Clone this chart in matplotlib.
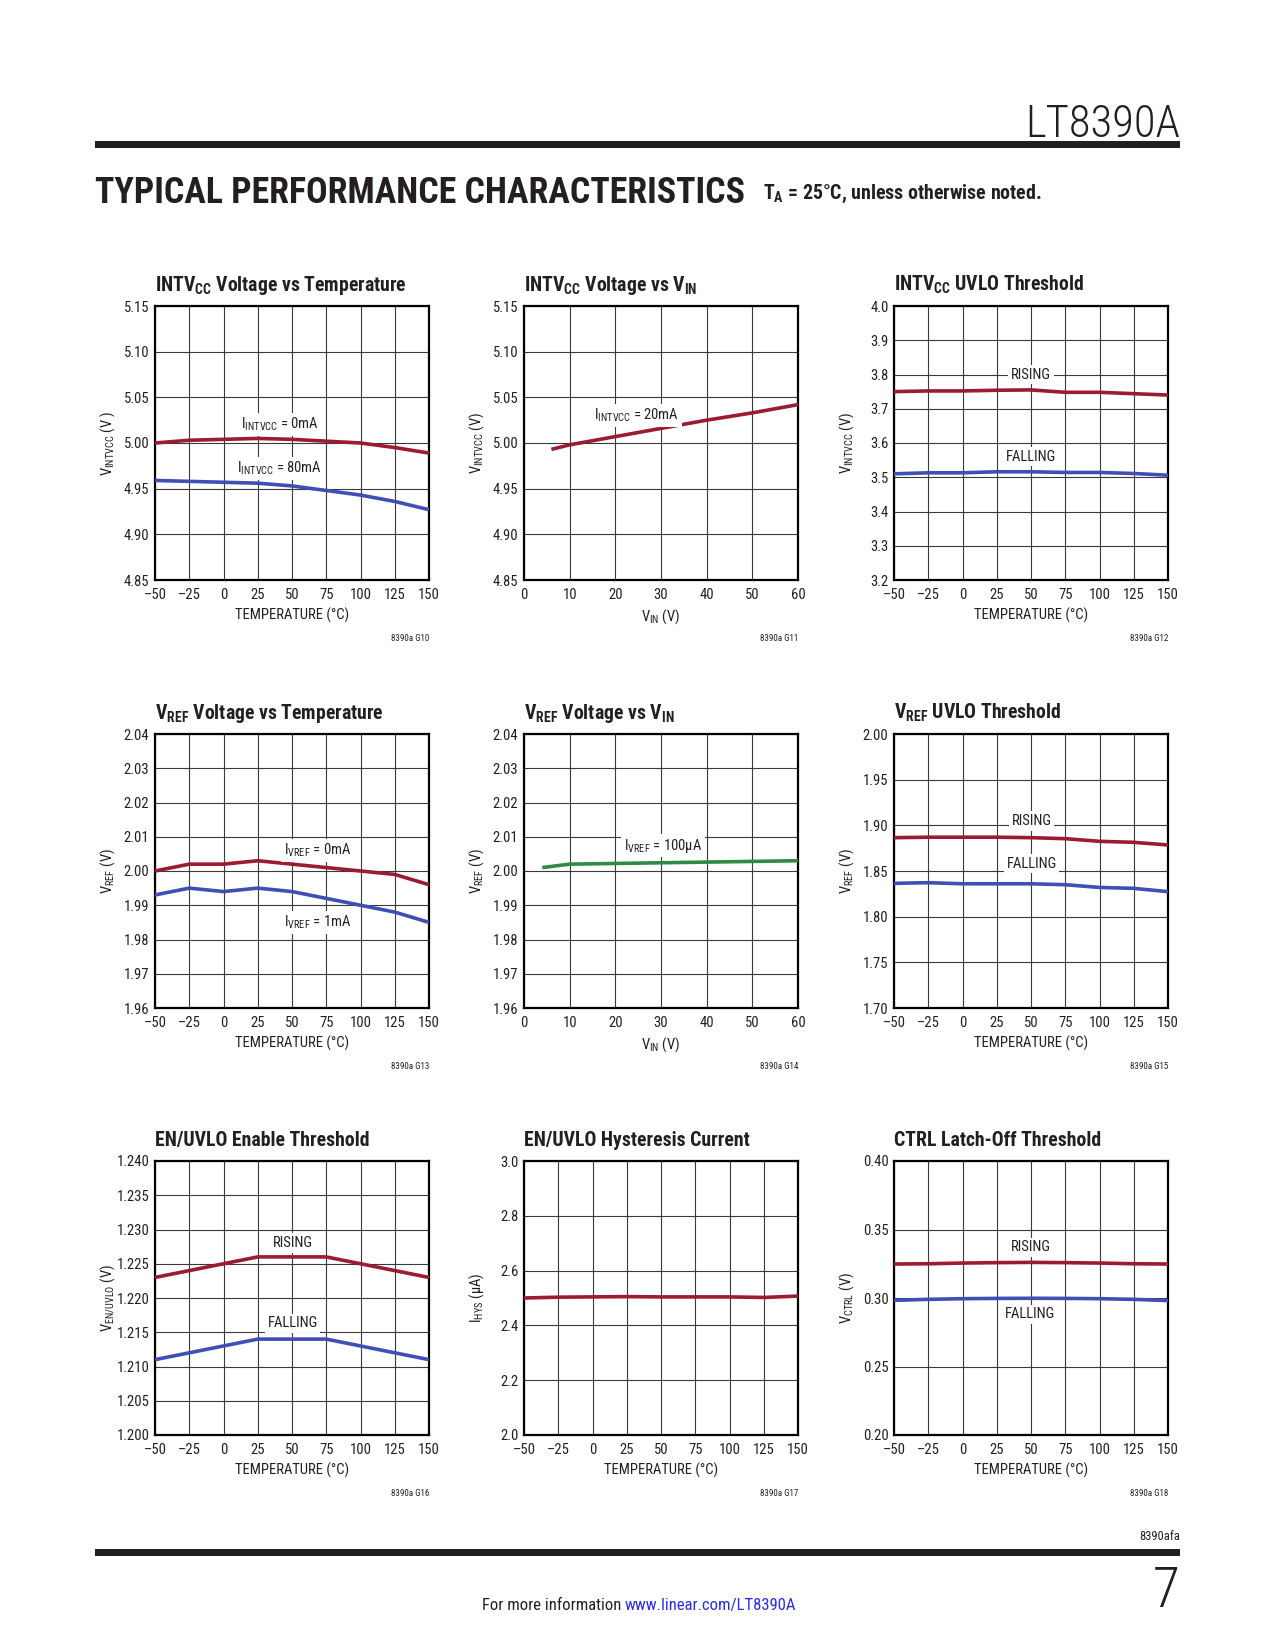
import matplotlib
matplotlib.use('Agg')
import matplotlib.pyplot as plt
from matplotlib import font_manager
from matplotlib.patches import Rectangle
from matplotlib.ticker import FuncFormatter, FormatStrFormatter

# --- fuentes disponibles ---
nombres = {f.name for f in font_manager.fontManager.ttflist}
def elegir(*cands):
    for c in cands:
        if c in nombres:
            return c
    return 'DejaVu Sans'

NARROW = elegir('Liberation Sans Narrow', 'Roboto Condensed', 'Open Sans Condensed', 'Roboto')
plt.rcParams['font.family'] = [NARROW, 'DejaVu Sans']
plt.rcParams['mathtext.default'] = 'regular'

RED = '#9c1a32'
BLUE = '#3f4fb6'
GREEN = '#2f8a42'

# --- datos ---
temp = [-50, -25, 0, 25, 50, 75, 100, 125, 150]
temp_ticks = [-50, -25, 0, 25, 50, 75, 100, 125, 150]
vin_ticks = [0, 10, 20, 30, 40, 50, 60]

intvcc_0ma = [5.000, 5.003, 5.004, 5.005, 5.004, 5.002, 5.000, 4.995, 4.989]
intvcc_80ma = [4.959, 4.958, 4.957, 4.956, 4.953, 4.948, 4.943, 4.936, 4.927]

vin_intvcc = [6, 10, 20, 30, 40, 50, 60]
intvcc_20ma = [4.993, 4.998, 5.007, 5.016, 5.025, 5.033, 5.042]

intvcc_uvlo_rise = [3.750, 3.752, 3.752, 3.754, 3.755, 3.748, 3.748, 3.744, 3.740]
intvcc_uvlo_fall = [3.510, 3.513, 3.513, 3.516, 3.516, 3.514, 3.514, 3.511, 3.506]

vref_0ma = [2.000, 2.002, 2.002, 2.003, 2.002, 2.001, 2.000, 1.999, 1.996]
vref_1ma = [1.993, 1.995, 1.994, 1.995, 1.994, 1.992, 1.990, 1.988, 1.985]

vin_vref = [4, 10, 20, 30, 40, 50, 60]
vref_100ua = [2.001, 2.002, 2.0022, 2.0024, 2.0026, 2.0028, 2.003]

vref_uvlo_rise = [1.8865, 1.887, 1.887, 1.887, 1.8865, 1.8854, 1.8825, 1.8814, 1.8785]
vref_uvlo_fall = [1.8365, 1.8372, 1.836, 1.836, 1.836, 1.835, 1.832, 1.831, 1.8274]

en_rise = [1.223, 1.224, 1.225, 1.226, 1.226, 1.226, 1.225, 1.224, 1.223]
en_fall = [1.211, 1.212, 1.213, 1.214, 1.214, 1.214, 1.213, 1.212, 1.211]

ihys = [2.500, 2.503, 2.504, 2.505, 2.504, 2.504, 2.504, 2.502, 2.507]

ctrl_rise = [0.3248, 0.3250, 0.3255, 0.3258, 0.3260, 0.3258, 0.3255, 0.3250, 0.3248]
ctrl_fall = [0.2983, 0.2990, 0.2995, 0.2997, 0.2998, 0.2997, 0.2995, 0.2990, 0.2981]

TEMP_LBL = 'TEMPERATURE (°C)'
VIN_LBL = 'V$_{IN}$ (V)'

paneles = [
    dict(title='INTV$_{CC}$ Voltage vs Temperature', ylabel='V$_{INTVCC}$ (V )', xlabel=TEMP_LBL,
         xticks=temp_ticks, yticks=[4.85, 4.90, 4.95, 5.00, 5.05, 5.10, 5.15], yfmt='%.2f',
         series=[(temp, intvcc_0ma, RED), (temp, intvcc_80ma, BLUE)],
         labels=[(41, 5.020, 'I$_{INTVCC}$ = 0mA'), (41, 4.972, 'I$_{INTVCC}$ = 80mA')], code='8390a G10'),
    dict(title='INTV$_{CC}$ Voltage vs V$_{IN}$', ylabel='V$_{INTVCC}$ (V)', xlabel=VIN_LBL,
         xticks=vin_ticks, yticks=[4.85, 4.90, 4.95, 5.00, 5.05, 5.10, 5.15], yfmt='%.2f',
         series=[(vin_intvcc, intvcc_20ma, RED)],
         labels=[(24.7, 5.030, 'I$_{INTVCC}$ = 20mA')], code='8390a G11'),
    dict(title='INTV$_{CC}$ UVLO Threshold', ylabel='V$_{INTVCC}$ (V)', xlabel=TEMP_LBL,
         xticks=temp_ticks, yticks=[3.2, 3.3, 3.4, 3.5, 3.6, 3.7, 3.8, 3.9, 4.0], yfmt='%.1f',
         series=[(temp, intvcc_uvlo_rise, RED), (temp, intvcc_uvlo_fall, BLUE)],
         labels=[(50, 3.80, 'RISING'), (50, 3.56, 'FALLING')], code='8390a G12'),
    dict(title='V$_{REF}$ Voltage vs Temperature', ylabel='V$_{REF}$ (V)', xlabel=TEMP_LBL,
         xticks=temp_ticks, yticks=[1.96, 1.97, 1.98, 1.99, 2.00, 2.01, 2.02, 2.03, 2.04], yfmt='%.2f',
         series=[(temp, vref_0ma, RED), (temp, vref_1ma, BLUE)],
         labels=[(68.6, 2.0061, 'I$_{VREF}$ = 0mA'), (68.6, 1.9851, 'I$_{VREF}$ = 1mA')], code='8390a G13'),
    dict(title='V$_{REF}$ Voltage vs V$_{IN}$', ylabel='V$_{REF}$ (V)', xlabel=VIN_LBL,
         xticks=vin_ticks, yticks=[1.96, 1.97, 1.98, 1.99, 2.00, 2.01, 2.02, 2.03, 2.04], yfmt='%.2f',
         series=[(vin_vref, vref_100ua, GREEN)],
         labels=[(30.4, 2.0074, 'I$_{VREF}$ = 100µA')], code='8390a G14'),
    dict(title='V$_{REF}$ UVLO Threshold', ylabel='V$_{REF}$ (V)', xlabel=TEMP_LBL,
         xticks=temp_ticks, yticks=[1.70, 1.75, 1.80, 1.85, 1.90, 1.95, 2.00], yfmt='%.2f',
         series=[(temp, vref_uvlo_rise, RED), (temp, vref_uvlo_fall, BLUE)],
         labels=[(50.4, 1.905, 'RISING'), (50.4, 1.858, 'FALLING')], code='8390a G15'),
    dict(title='EN/UVLO Enable Threshold', ylabel='V$_{EN/UVLO}$ (V)', xlabel=TEMP_LBL,
         xticks=temp_ticks, yticks=[1.200, 1.205, 1.210, 1.215, 1.220, 1.225, 1.230, 1.235, 1.240], yfmt='%.3f',
         series=[(temp, en_rise, RED), (temp, en_fall, BLUE)],
         labels=[(50.4, 1.228, 'RISING'), (50.4, 1.2163, 'FALLING')], code='8390a G16'),
    dict(title='EN/UVLO Hysteresis Current', ylabel='I$_{HYS}$ (µA)', xlabel=TEMP_LBL,
         xticks=temp_ticks, yticks=[2.0, 2.2, 2.4, 2.6, 2.8, 3.0], yfmt='%.1f',
         series=[(temp, ihys, RED)], labels=[], code='8390a G17'),
    dict(title='CTRL Latch-Off Threshold', ylabel='V$_{CTRL}$ (V)', xlabel=TEMP_LBL,
         xticks=temp_ticks, yticks=[0.20, 0.25, 0.30, 0.35, 0.40], yfmt='%.2f',
         series=[(temp, ctrl_rise, RED), (temp, ctrl_fall, BLUE)],
         labels=[(49.6, 0.337, 'RISING'), (49.6, 0.288, 'FALLING')], code='8390a G18'),
]

W, H = 1275, 1650
fig = plt.figure(figsize=(W / 100, H / 100), dpi=100)

def caja(left, top, size=274):
    return [left / W, 1 - (top + size) / H, size / W, size / H]

lefts = [155, 524, 894]
tops = [306, 734, 1161]

guion = FuncFormatter(lambda v, p: f'{v:.0f}'.replace('-', '–'))

for i, p in enumerate(paneles):
    ax = fig.add_axes(caja(lefts[i % 3], tops[i // 3]))
    for x, y, c in p['series']:
        ax.plot(x, y, color=c, lw=2.6, solid_capstyle='butt', zorder=3)
    ax.set_xticks(p['xticks'])
    ax.set_yticks(p['yticks'])
    ax.set_xlim(p['xticks'][0], p['xticks'][-1])
    ax.set_ylim(p['yticks'][0], p['yticks'][-1])
    ax.xaxis.set_major_formatter(guion)
    ax.yaxis.set_major_formatter(FormatStrFormatter(p['yfmt']))
    ax.grid(True, color='#3a3a3a', lw=0.8)
    ax.tick_params(length=0, labelsize=10.5, colors='#231f20')
    ax.tick_params(axis='x', pad=6)
    ax.tick_params(axis='y', pad=4)
    for s in ax.spines.values():
        s.set_linewidth(1.6)
        s.set_color('black')
    ax.set_title(p['title'], loc='left', pad=11, fontsize=14.2, fontweight='bold', color='#231f20')
    ax.set_ylabel(p['ylabel'], fontsize=10.5, color='#231f20')
    ax.yaxis.set_label_coords(-0.14, 0.5)
    ax.set_xlabel(p['xlabel'], fontsize=10.5, color='#231f20')
    ax.xaxis.set_label_coords(0.5, -0.10)
    for x, y, t in p['labels']:
        ax.text(x, y, t, ha='center', va='center', fontsize=10.5, color='#231f20', zorder=4,
                bbox=dict(facecolor='white', edgecolor='none', pad=2))
    ax.text(1.0, -0.215, p['code'], transform=ax.transAxes, ha='right', va='center',
            fontsize=6.5, color='#231f20')

# --- encabezado y pie de pagina ---
fig.text(1180 / W, 1 - 137 / H, 'LT8390A', ha='right', va='baseline', fontsize=32,
         fontweight='light', color='#231f20')
fig.add_artist(Rectangle((95 / W, 1 - 148 / H), 1085 / W, 7 / H, transform=fig.transFigure,
                         color='#231f20', lw=0))
fig.text(95 / W, 1 - 203 / H, 'TYPICAL PERFORMANCE CHARACTERISTICS', ha='left', va='baseline',
         fontsize=25.8, fontweight='heavy', color='#231f20')
fig.text(763 / W, 1 - 199 / H, 'T$_A$ = 25°C, unless otherwise noted.', ha='left', va='baseline',
         fontsize=14.3, fontweight='bold', color='#231f20')

fig.text(1180 / W, 1 - 1536 / H, '8390afa', ha='right', va='center', fontsize=9, color='#231f20')
fig.add_artist(Rectangle((95 / W, 1 - 1556 / H), 1085 / W, 7 / H, transform=fig.transFigure,
                         color='#231f20', lw=0))
fig.text(1180 / W, 1 - 1607 / H, '7', ha='right', va='baseline', fontsize=40,
         fontweight='light', color='#231f20')
fig.text(625 / W, 1 - 1610 / H, 'For more information ', ha='right', va='baseline', fontsize=12,
         color='#231f20')
fig.text(625 / W, 1 - 1610 / H, 'www.linear.com/LT8390A', ha='left', va='baseline', fontsize=12,
         color='#2a2aee')

fig.savefig('out.png', dpi=100)
